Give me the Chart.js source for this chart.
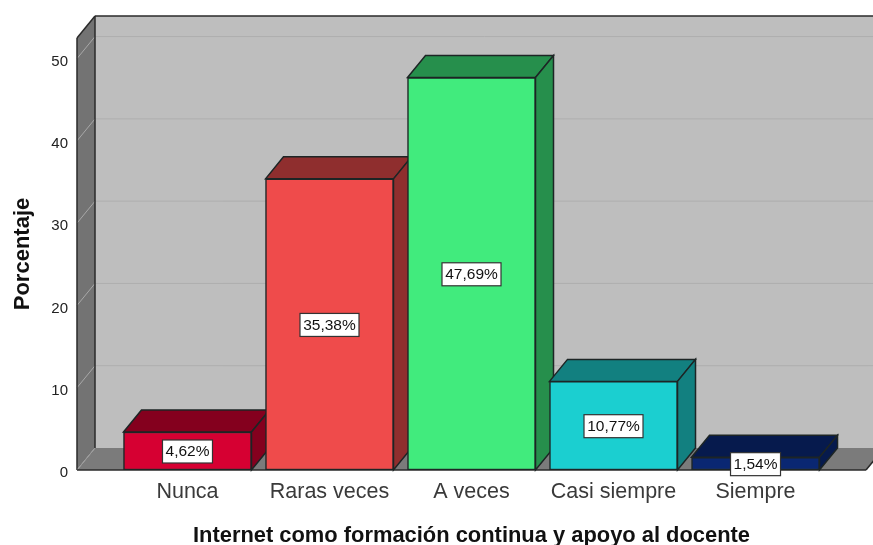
<!DOCTYPE html>
<html lang="es">
<head>
<meta charset="utf-8">
<title>Internet como formación continua y apoyo al docente</title>
<script src="https://cdn.jsdelivr.net/npm/chart.js@4/dist/chart.umd.min.js"></script>
<style>
  html, body { margin: 0; padding: 0; background: #fff; }
  #wrap { width: 873px; height: 545px; overflow: hidden; }
</style>
</head>
<body>
<div id="wrap"><canvas id="chart" width="873" height="545"></canvas></div>
<script>
// ── Data ─────────────────────────────────────────────────
const categories = ['Nunca', 'Raras veces', 'A veces', 'Casi siempre', 'Siempre'];
const percents   = [4.62, 35.38, 47.69, 10.77, 1.54];
const yTicks     = [0, 10, 20, 30, 40, 50];

// ── Colours ──────────────────────────────────────────────
const FRONT = ['#d60032', '#ef4b4b', '#41eb7d', '#1bcfd0', '#0a2772'];
const SHADE = ['#84001e', '#8f2e2e', '#268f4c', '#128080', '#061a4d'];
const EDGE  = '#1d2525';

// depth of the fake 3D box, in pixels
const DX = 18;
const DY = 22;

const FONT = '"Liberation Sans", Arial, sans-serif';

function poly(ctx, pts, fill, stroke, width) {
  ctx.beginPath();
  pts.forEach((p, i) => i ? ctx.lineTo(p[0], p[1]) : ctx.moveTo(p[0], p[1]));
  ctx.closePath();
  if (fill) { ctx.fillStyle = fill; ctx.fill(); }
  if (stroke) { ctx.strokeStyle = stroke; ctx.lineWidth = width || 1.5; ctx.stroke(); }
}

function line(ctx, x1, y1, x2, y2, color, width) {
  ctx.beginPath();
  ctx.moveTo(x1, y1);
  ctx.lineTo(x2, y2);
  ctx.strokeStyle = color;
  ctx.lineWidth = width;
  ctx.stroke();
}

// ── Walls, floor, grid lines and the bars' side faces ────
const box3d = {
  id: 'box3d',
  beforeDatasetsDraw(chart) {
    const { ctx, chartArea: a, scales: { y } } = chart;
    const W = chart.width + 20;
    ctx.save();

    // back wall
    poly(ctx, [[a.left + DX, a.top - DY], [W, a.top - DY], [W, a.bottom - DY], [a.left + DX, a.bottom - DY]], '#bebebe');
    // left wall
    poly(ctx, [[a.left, a.top], [a.left + DX, a.top - DY], [a.left + DX, a.bottom - DY], [a.left, a.bottom]], '#737373');
    // floor
    poly(ctx, [[a.left, a.bottom], [a.left + DX, a.bottom - DY], [a.right + DX, a.bottom - DY], [a.right, a.bottom]], '#7b7b7b');

    // grid lines run along the left wall, then the back wall
    yTicks.forEach(v => {
      const py = y.getPixelForValue(v);
      line(ctx, a.left, py, a.left + DX, py - DY, '#a8a8a8', 1);
      if (v > 0) line(ctx, a.left + DX, py - DY, W, py - DY, '#aeaeae', 1);
    });

    // box edges
    line(ctx, a.left, a.top, a.left, a.bottom, '#2a2a2a', 1.5);
    line(ctx, a.left, a.top, a.left + DX, a.top - DY, '#2a2a2a', 1.5);
    line(ctx, a.left + DX, a.top - DY, W, a.top - DY, '#2a2a2a', 1.5);
    line(ctx, a.left + DX, a.top - DY, a.left + DX, a.bottom - DY, '#2a2a2a', 1.5);
    line(ctx, a.left, a.bottom, a.left + DX, a.bottom - DY, '#9a9a9a', 1);
    line(ctx, a.left, a.bottom, a.right, a.bottom, '#2a2a2a', 1.5);
    line(ctx, a.right, a.bottom, a.right + DX, a.bottom - DY, '#2a2a2a', 1.5);

    // top and right faces of each bar, left to right
    chart.getDatasetMeta(0).data.forEach((bar, i) => {
      const l = bar.x - bar.width / 2;
      const r = bar.x + bar.width / 2;
      const t = bar.y;
      const b = bar.base;
      poly(ctx, [[l, t], [l + DX, t - DY], [r + DX, t - DY], [r, t]], SHADE[i], EDGE, 1.5);
      poly(ctx, [[r, t], [r + DX, t - DY], [r + DX, b - DY], [r, b]], SHADE[i], EDGE, 1.5);
    });
    ctx.restore();
  },
  // white value boxes on the bar fronts
  afterDatasetsDraw(chart) {
    const { ctx } = chart;
    ctx.save();
    ctx.font = '15.5px ' + FONT;
    ctx.textAlign = 'center';
    ctx.textBaseline = 'middle';
    chart.getDatasetMeta(0).data.forEach((bar, i) => {
      const text = percents[i].toFixed(2).replace('.', ',') + '%';
      const w = Math.round(ctx.measureText(text).width) + 6;
      const h = 23;
      const cy = (bar.y + bar.base) / 2 + 0.5;
      ctx.fillStyle = '#fff';
      ctx.fillRect(bar.x - w / 2, cy - h / 2, w, h);
      ctx.strokeStyle = '#333';
      ctx.lineWidth = 1.2;
      ctx.strokeRect(bar.x - w / 2, cy - h / 2, w, h);
      ctx.fillStyle = '#111';
      ctx.fillText(text, bar.x, cy + 0.5);
    });
    ctx.restore();
  },
};

// ── Chart ────────────────────────────────────────────────
new Chart(document.getElementById('chart'), {
  type: 'bar',
  data: {
    datasets: [{
      data: percents.map((v, i) => ({ x: i, y: v })),
      backgroundColor: FRONT,
      borderColor: EDGE,
      borderWidth: 1.5,
      borderSkipped: false,
      barThickness: 128,
    }],
  },
  options: {
    responsive: false,
    animation: false,
    layout: { padding: { top: 38, right: 7, left: 0, bottom: 0 } },
    plugins: {
      legend: { display: false },
      tooltip: { enabled: false },
    },
    scales: {
      x: {
        type: 'linear',
        offset: false,
        min: -0.778,
        max: 4.778,
        grid: { display: false, drawTicks: false },
        border: { display: false },
        afterBuildTicks: s => { s.ticks = categories.map((_, i) => ({ value: i })); },
        afterFit: s => { s.height = 75; },
        ticks: {
          maxRotation: 0,
          autoSkip: false,
          padding: 9,
          color: '#3a3a3a',
          font: { family: FONT, size: 21.5 },
          callback: v => categories[v],
        },
        title: {
          display: true,
          text: 'Internet como formación continua y apoyo al docente',
          color: '#111',
          font: { family: FONT, size: 21.9, weight: 'bold' },
          padding: { top: 0, bottom: -4 },
        },
      },
      y: {
        min: 0,
        max: 52.5,
        grid: { display: false, drawTicks: false },
        border: { display: false },
        afterBuildTicks: s => { s.ticks = yTicks.map(v => ({ value: v })); },
        afterFit: s => { s.width = 77; },
        ticks: {
          padding: 9,
          labelOffset: 3,
          color: '#222',
          font: { family: FONT, size: 15 },
        },
        title: {
          display: true,
          text: 'Porcentaje',
          color: '#111',
          font: { family: FONT, size: 22, weight: 'bold' },
          padding: { top: 10, bottom: 0 },
        },
      },
    },
  },
  plugins: [box3d],
});
</script>
</body>
</html>
